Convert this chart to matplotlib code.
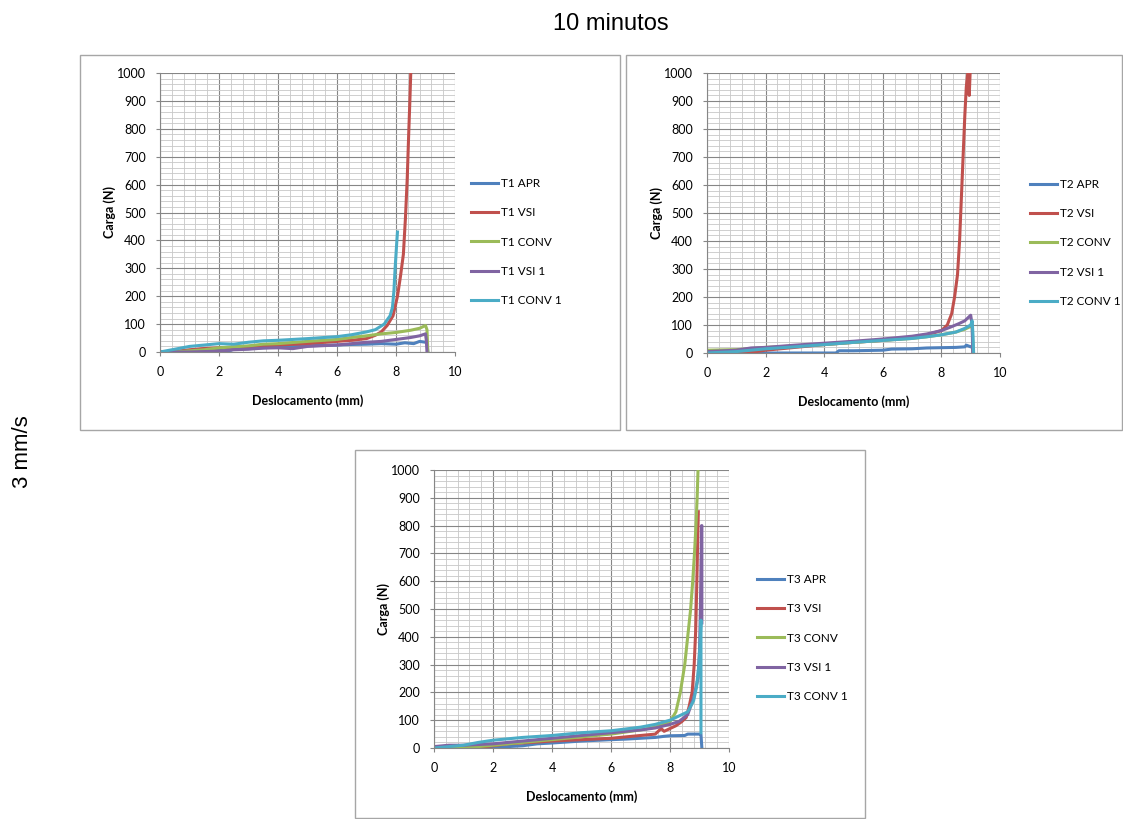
import numpy as np
import matplotlib.pyplot as plt
from matplotlib.patches import Rectangle

# series colours (Excel defaults)
cores = ["#4F81BD", "#C0504D", "#9BBB59", "#8064A2", "#4BACC6"]
nomes = ["APR", "VSI", "CONV", "VSI 1", "CONV 1"]

# ---- T1 ----
t1_apr_x = [0, 0.5, 1, 1.5, 2, 2.3, 2.5, 3, 3.5, 4, 4.5, 5, 5.5, 6, 6.5, 7, 7.5, 8, 8.3, 8.6, 8.8, 9.0, 9.05, 9.08]
t1_apr_y = [0, 0, 2, 4, 6, 3, 10, 12, 15, 18, 20, 22, 24, 25, 27, 28, 30, 28, 33, 30, 38, 35, 30, 0]
t1_vsi_x = [0, 0.5, 1, 1.4, 2, 3, 4, 5, 6, 6.5, 7, 7.3, 7.5, 7.7, 7.9, 8.05, 8.15, 8.25, 8.32, 8.38, 8.43, 8.47, 8.5]
t1_vsi_y = [0, 2, 8, 12, 15, 20, 25, 30, 38, 42, 48, 60, 72, 95, 130, 200, 270, 350, 480, 620, 780, 900, 1000]
t1_conv_x = [0, 0.5, 1, 1.5, 2, 3, 3.5, 4, 5, 6, 6.5, 7, 7.5, 8, 8.5, 8.8, 9.0, 9.05, 9.08]
t1_conv_y = [0, 0, 4, 8, 15, 22, 28, 30, 38, 45, 52, 58, 65, 70, 78, 85, 95, 80, 0]
t1_vsi1_x = [0, 1, 2, 2.5, 3, 3.5, 4, 4.5, 5, 6, 6.5, 7, 7.5, 8, 8.5, 8.8, 9.0, 9.03, 9.05]
t1_vsi1_y = [0, 0, 3, 8, 10, 14, 15, 12, 20, 25, 30, 35, 38, 45, 52, 58, 65, 40, 0]
t1_conv1_x = [0, 0.5, 1, 1.5, 2, 2.5, 3, 3.5, 4, 5, 6, 6.5, 7, 7.3, 7.6, 7.8, 7.88, 7.93, 7.97, 8.0, 8.03, 8.05]
t1_conv1_y = [0, 10, 20, 25, 30, 28, 35, 40, 42, 48, 55, 62, 72, 80, 100, 130, 160, 220, 300, 350, 400, 430]

# ---- T2 ----
t2_apr_x = [0, 1, 2, 3, 4, 4.4, 4.5, 5, 5.5, 6, 6.3, 7, 7.5, 8, 8.5, 8.8, 8.85, 9.0, 9.05, 9.08]
t2_apr_y = [0, 0, 0, 0, 0, 0, 8, 8, 9, 10, 14, 15, 18, 19, 20, 22, 28, 22, 25, 0]
t2_vsi_x = [0, 1, 1.5, 2, 3, 4, 5, 6, 7, 7.5, 8, 8.2, 8.35, 8.45, 8.55, 8.62, 8.68, 8.74, 8.8, 8.85, 8.9, 8.95, 8.95, 8.98]
t2_vsi_y = [0, 0, 2, 10, 20, 30, 38, 45, 55, 65, 80, 100, 140, 200, 280, 400, 550, 700, 850, 950, 1000, 1000, 920, 1000]
t2_conv_x = [0, 1, 2, 3, 4, 5, 6, 7, 7.5, 8, 8.5, 8.8, 9.0, 9.05, 9.08]
t2_conv_y = [10, 12, 20, 25, 30, 38, 45, 52, 58, 65, 75, 85, 95, 100, 0]
t2_vsi1_x = [0, 1, 1.5, 2, 3, 4, 5, 6, 7, 7.5, 8, 8.3, 8.6, 8.8, 8.95, 9.0, 9.05, 9.07]
t2_vsi1_y = [5, 10, 18, 20, 28, 35, 42, 50, 60, 68, 80, 92, 105, 115, 130, 135, 100, 0]
t2_conv1_x = [0, 1, 2, 3, 4, 5, 6, 7, 7.5, 8, 8.5, 8.8, 9.0, 9.05, 9.08, 9.1]
t2_conv1_y = [0, 5, 15, 22, 30, 38, 45, 52, 58, 65, 75, 88, 100, 115, 60, 0]

# ---- T3 ----
t3_apr_x = [0, 1, 2, 2.5, 3, 3.5, 4, 5, 6, 6.5, 7, 7.5, 7.8, 8, 8.5, 8.6, 9.0, 9.05, 9.08]
t3_apr_y = [0, 0, 0, 5, 8, 15, 18, 25, 30, 32, 35, 38, 42, 44, 45, 50, 50, 48, 0]
t3_vsi_x = [0, 1, 1.5, 2, 2.5, 3, 4, 5, 6, 7, 7.5, 7.7, 7.8, 8.0, 8.2, 8.4, 8.55, 8.65, 8.75, 8.82, 8.87, 8.9, 8.93, 8.96]
t3_vsi_y = [0, 0, 2, 8, 15, 18, 25, 30, 35, 45, 50, 70, 60, 70, 80, 95, 110, 150, 200, 300, 420, 550, 700, 850]
t3_conv_x = [0, 0.5, 1, 1.5, 2, 3, 4, 5, 6, 7, 7.5, 8, 8.2, 8.35, 8.5, 8.6, 8.7, 8.77, 8.83, 8.88, 8.92, 8.95]
t3_conv_y = [0, 0, 0, 5, 10, 20, 30, 40, 50, 65, 75, 95, 130, 200, 300, 400, 500, 600, 700, 800, 900, 1000]
t3_vsi1_x = [0, 0.5, 1, 2, 3, 4, 5, 6, 7, 7.5, 8, 8.3, 8.6, 8.8, 8.95, 9.0, 9.03, 9.05, 9.07, 9.08, 9.08]
t3_vsi1_y = [5, 10, 10, 15, 25, 35, 45, 55, 65, 72, 85, 95, 120, 180, 250, 350, 500, 650, 800, 800, 450]
t3_conv1_x = [0, 0.5, 1, 1.5, 2, 3, 4, 5, 6, 7, 7.5, 8, 8.3, 8.6, 8.8, 8.9, 8.98, 9.02, 9.05, 9.05]
t3_conv1_y = [0, 5, 10, 20, 28, 38, 45, 55, 62, 75, 85, 100, 115, 130, 170, 220, 300, 380, 460, 55]

paineis = [
    ("T1", [(t1_apr_x, t1_apr_y), (t1_vsi_x, t1_vsi_y), (t1_conv_x, t1_conv_y),
            (t1_vsi1_x, t1_vsi1_y), (t1_conv1_x, t1_conv1_y)]),
    ("T2", [(t2_apr_x, t2_apr_y), (t2_vsi_x, t2_vsi_y), (t2_conv_x, t2_conv_y),
            (t2_vsi1_x, t2_vsi1_y), (t2_conv1_x, t2_conv1_y)]),
    ("T3", [(t3_apr_x, t3_apr_y), (t3_vsi_x, t3_vsi_y), (t3_conv_x, t3_conv_y),
            (t3_vsi1_x, t3_vsi1_y), (t3_conv1_x, t3_conv1_y)]),
]

W, H = 1123, 819
# axes boxes in pixels: left, top, right, bottom
caixas = [(160, 73, 455, 352), (707, 73, 1000, 353), (434, 470, 729, 748)]
molduras = [(80, 55, 620, 430), (626, 55, 1122, 430), (355, 450, 865, 818)]
# legend: gap from plot right edge (px) and vertical centre (px)
legendas = [(16, 242), (30, 243), (28, 638)]

plt.rcParams['font.family'] = ['Lato', 'DejaVu Sans']

fig = plt.figure(figsize=(W / 100, H / 100), dpi=100)
fig.patch.set_facecolor("white")

for (x0, y0, x1, y1) in molduras:
    fig.patches.append(Rectangle((x0 / W, 1 - y1 / H), (x1 - x0) / W, (y1 - y0) / H,
                                 transform=fig.transFigure, fill=False,
                                 edgecolor="#a6a6a6", linewidth=1.0))

for (nome, series), (l, t, r, b), (dx, yc) in zip(paineis, caixas, legendas):
    ax = fig.add_axes([l / W, 1 - b / H, (r - l) / W, (b - t) / H])
    ax.set_xlim(0, 10)
    ax.set_ylim(0, 1000)
    ax.set_xticks(np.arange(0, 11, 2))
    ax.set_yticks(np.arange(0, 1001, 100))
    ax.set_xticks(np.arange(0, 10.01, 0.4), minor=True)
    ax.set_yticks(np.arange(0, 1001, 20), minor=True)
    ax.grid(which="major", color="#868686", linewidth=0.8)
    ax.grid(which="minor", color="#c8c8c8", linewidth=0.6)
    ax.tick_params(which="minor", length=0)
    ax.tick_params(which="major", length=3, color="#868686", direction="out",
                   labelsize=9, pad=7)
    for s in ["top", "right"]:
        ax.spines[s].set_visible(False)
    for s in ["left", "bottom"]:
        ax.spines[s].set_color("#868686")
    ax.set_axisbelow(True)

    for (xs, ys), cor, rot in zip(series, cores, nomes):
        ax.plot(xs, ys, color=cor, linewidth=2.2, label=f"{nome} {rot}")

    ax.set_xlabel("Deslocamento (mm)", fontsize=9, fontweight="bold", labelpad=12)
    ax.set_ylabel("Carga (N)", fontsize=9, fontweight="bold", labelpad=1)
    ax.legend(loc="center left", bbox_to_anchor=(1 + dx / (r - l), (b - yc) / (b - t)),
              frameon=False, fontsize=8.5, handlelength=2.3, labelspacing=1.55,
              handletextpad=0.2, borderpad=0, borderaxespad=0)

fig.text(611 / W, 1 - 24 / H, "10 minutos", ha="center", va="center", fontsize=17,
         family="Liberation Sans")
fig.text(22 / W, 1 - 452 / H, "3 mm/s", ha="center", va="center", fontsize=16,
         rotation=90, family="Liberation Sans")

fig.savefig("out.png", dpi=100)
